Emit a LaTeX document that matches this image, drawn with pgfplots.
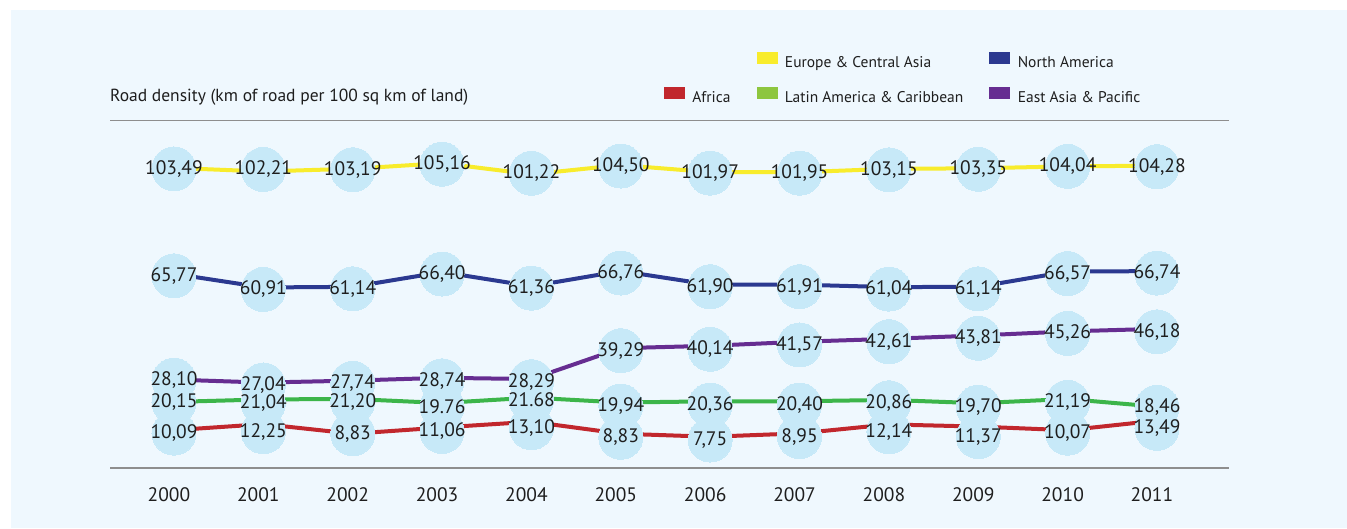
\documentclass[border=0pt]{standalone}
\usepackage{fontspec}
\setmainfont{PT Sans}
\usepackage{pgfplots}
\pgfplotsset{compat=1.18}
\usepackage{pgfplotstable}

\definecolor{bg}{HTML}{EFF8FE}
\definecolor{circ}{HTML}{C7E9F8}
\definecolor{txt}{HTML}{1E1E1E}
\definecolor{gline}{HTML}{8E8E8E}
\definecolor{eurcol}{HTML}{F8EC2C}
\definecolor{nacol}{HTML}{2B3990}
\definecolor{eapcol}{HTML}{662D91}
\definecolor{laccol}{HTML}{3CB54A}
\definecolor{laclegend}{HTML}{8DC63F}
\definecolor{afrcol}{HTML}{C1272D}

% x = year index, y = value, dy = downward shift (px) of the label bubble
\pgfplotstableread{
x y dy lab
0 103.49 1 {103,49}
1 102.21 -2 {102,21}
2 103.19 1 {103,19}
3 105.16 1 {105,16}
4 101.22 -1 {101,22}
5 104.50 1 {104,50}
6 101.97 1 {101,97}
7 101.95 1 {101,95}
8 103.15 1 {103,15}
9 103.35 1 {103,35}
10 104.04 0 {104,04}
11 104.28 1 {104,28}
}\europe

\pgfplotstableread{
x y dy lab
0 65.77 2 {65,77}
1 60.91 2 {60,91}
2 61.14 2 {61,14}
3 66.40 2 {66,40}
4 61.36 2 {61,36}
5 66.76 2 {66,76}
6 61.90 2 {61,90}
7 61.91 2 {61,91}
8 61.04 2 {61,04}
9 61.14 2 {61,14}
10 66.57 2 {66,57}
11 66.74 2 {66,74}
}\namerica

\pgfplotstableread{
x y dy lab
0 28.10 0.5 {28,10}
1 27.04 2.4 {27,04}
2 27.74 2.7 {27,74}
3 28.74 3 {28,74}
4 28.29 2.6 {28,29}
5 39.29 2.5 {39,29}
6 40.14 3.5 {40,14}
7 41.57 3.2 {41,57}
8 42.61 2.8 {42,61}
9 43.81 2.8 {43,81}
10 45.26 2 {45,26}
11 46.18 3 {46,18}
}\eap

\pgfplotstableread{
x y dy lab
0 20.15 0.3 {20,15}
1 21.04 4 {21,04}
2 21.20 2.7 {21,20}
3 19.76 3.7 {19.76}
4 21.68 2.4 {21.68}
5 19.94 3.5 {19,94}
6 20.36 3.7 {20,36}
7 20.40 3.8 {20,40}
8 20.86 2.8 {20,86}
9 19.70 4 {19,70}
10 21.19 3.3 {21,19}
11 18.46 0.6 {18,46}
}\lac

\pgfplotstableread{
x y dy lab
0 10.09 3 {10,09}
1 12.25 7.6 {12,25}
2 8.83 0 {8,83}
3 11.06 4 {11,06}
4 13.10 6 {13,10}
5 8.83 3.6 {8,83}
6 7.75 3.3 {7,75}
7 8.95 3.3 {8,95}
8 12.14 7.3 {12,14}
9 11.37 10 {11,37}
10 10.07 3 {10,07}
11 13.49 7.7 {13,49}
}\africa

\pgfplotsset{
  sw/.style={legend image code/.code={\fill[#1] (0pt,0.5pt) rectangle (20pt,11.5pt);}},
  ln/.style={#1, line width=4pt, forget plot},
  dots/.style={only marks, mark=*, mark size=22pt, mark options={fill=circ, draw=circ, line width=0pt}, forget plot},
  labs/.style={only marks, mark=*, mark size=0.5pt, mark options={draw=circ, fill=circ}, forget plot,
    nodes near coords, point meta=explicit symbolic,
    every node near coord/.style={anchor=center, inner sep=0pt, text=txt, font=\fontsize{19.5pt}{21pt}\selectfont}},
}

\begin{document}
\begin{tikzpicture}
\useasboundingbox (0,0) rectangle (1347pt,528pt);
\fill[white] (0,0) rectangle (1347pt,528pt);
\fill[bg] (11pt,0) rectangle (1347pt,518pt);
\begin{axis}[
  at={(110pt,60pt)}, anchor=south west,
  scale only axis, width=1119pt, height=347.3pt,
  xmin=-0.716, xmax=11.806, ymin=-3.38, ymax=120.3,
  clip=false,
  axis line style={draw=none},
  ytick=\empty,
  xtick={0,...,11},
  xticklabels={2000,2001,2002,2003,2004,2005,2006,2007,2008,2009,2010,2011},
  major tick length=0pt,
  xticklabel style={anchor=base, yshift=-33pt, xshift=-5pt, text=txt, font=\fontsize{19.5pt}{21pt}\selectfont},
  legend columns=3,
  legend cell align=left,
  legend style={at={(0.4951,1.199)}, anchor=north west, draw=none, fill=none, inner sep=0pt, outer sep=0pt,
    row sep=15.7pt,
    nodes={inner sep=0pt, text height=12pt, text depth=4pt, text=txt, font=\fontsize{15.5pt}{17pt}\selectfont},
    /tikz/every odd column/.append style={column sep=8pt},
    /tikz/every even column/.append style={column sep=26pt}},
]
\draw[gline, line width=1.3pt] (rel axis cs:0,0) -- (rel axis cs:1,0);
\draw[gline, line width=1.3pt] (rel axis cs:0,1) -- (rel axis cs:1,1);

\addplot[ln=eurcol] table[x=x,y=y] {\europe};
\addplot[ln=nacol] table[x=x,y=y] {\namerica};
\addplot[ln=eapcol] table[x=x,y=y] {\eap};
\addplot[ln=laccol] table[x=x,y=y] {\lac};
\addplot[ln=afrcol] table[x=x,y=y] {\africa};

\addplot[dots] table[x=x,y expr=\thisrow{y}-\thisrow{dy}/2.807] {\europe};
\addplot[dots] table[x=x,y expr=\thisrow{y}-\thisrow{dy}/2.807] {\namerica};
\addplot[dots] table[x=x,y expr=\thisrow{y}-\thisrow{dy}/2.807] {\eap};
\addplot[dots] table[x=x,y expr=\thisrow{y}-\thisrow{dy}/2.807] {\lac};
\addplot[dots] table[x=x,y expr=\thisrow{y}-\thisrow{dy}/2.807] {\africa};

\addplot[labs] table[x=x,y expr=\thisrow{y}-\thisrow{dy}/2.807,meta=lab] {\europe};
\addplot[labs] table[x=x,y expr=\thisrow{y}-\thisrow{dy}/2.807,meta=lab] {\namerica};
\addplot[labs] table[x=x,y expr=\thisrow{y}-\thisrow{dy}/2.807,meta=lab] {\eap};
\addplot[labs] table[x=x,y expr=\thisrow{y}-\thisrow{dy}/2.807,meta=lab] {\lac};
\addplot[labs] table[x=x,y expr=\thisrow{y}-\thisrow{dy}/2.807,meta=lab] {\africa};

\addlegendimage{empty legend}\addlegendentry{}
\addlegendimage{sw=eurcol}\addlegendentry{Europe \& Central Asia}
\addlegendimage{sw=nacol}\addlegendentry{North America}
\addlegendimage{sw=afrcol}\addlegendentry{Africa}
\addlegendimage{sw=laclegend}\addlegendentry{Latin America \& Caribbean}
\addlegendimage{sw=eapcol}\addlegendentry{East Asia \& Pacific}

\node[anchor=base west, yshift=19.5pt, inner sep=0pt, text=txt, font=\fontsize{17.5pt}{19pt}\selectfont] at (rel axis cs:0,1) {Road density (km of road per 100 sq km of land)};
\end{axis}
\end{tikzpicture}
\end{document}
